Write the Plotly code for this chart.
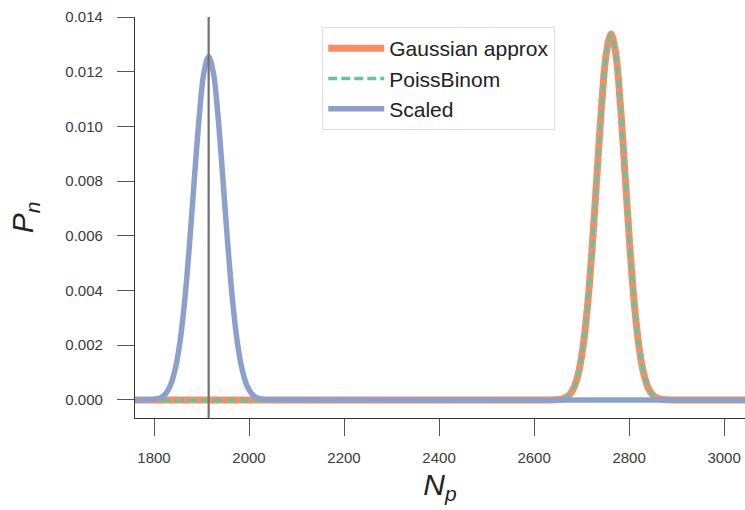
import plotly.graph_objects as go

# ---- data ----
gauss_x = [1760, 2632, 2642, 2652, 2662, 2672, 2682, 2692, 2702, 2712, 2722, 2732, 2742, 2752,
           2762, 2772, 2782, 2792, 2802, 2812, 2822, 2832, 2842, 2852, 2862, 2872, 2882, 2892, 3050]
gauss_y = [0.0, 0.000001, 0.0000045, 0.000016, 0.000052, 0.00015, 0.00038, 0.00088, 0.00181,
           0.00334, 0.00550, 0.00812, 0.01071, 0.01266, 0.01338, 0.01266, 0.01071, 0.00812,
           0.00550, 0.00334, 0.00181, 0.00088, 0.00038, 0.00015, 0.000052, 0.000016, 0.0000045,
           0.000001, 0.0]

poiss_x = [1760, 2632, 2642, 2652, 2662, 2672, 2682, 2692, 2702, 2712, 2722, 2732, 2742, 2752,
           2762, 2772, 2782, 2792, 2802, 2812, 2822, 2832, 2842, 2852, 2862, 2872, 2882, 2892, 3050]
poiss_y = [0.0, 0.000001, 0.000005, 0.000017, 0.000054, 0.00015, 0.00039, 0.00089, 0.00182,
           0.00335, 0.00551, 0.00811, 0.01069, 0.01263, 0.01335, 0.01263, 0.01069, 0.00811,
           0.00551, 0.00335, 0.00182, 0.00089, 0.00039, 0.00015, 0.000054, 0.000017, 0.000005,
           0.000001, 0.0]

scaled_x = [1760, 1785, 1795, 1805, 1815, 1825, 1835, 1845, 1855, 1865, 1875, 1885, 1895, 1905,
            1915, 1925, 1935, 1945, 1955, 1965, 1975, 1985, 1995, 2005, 2015, 2025, 2035, 2045, 3050]
scaled_y = [0.0, 0.000003, 0.000011, 0.000034, 0.000095, 0.00024, 0.00055, 0.00115, 0.00216,
            0.00370, 0.00575, 0.00809, 0.01032, 0.01195, 0.01255, 0.01195, 0.01032, 0.00809,
            0.00575, 0.00370, 0.00216, 0.00115, 0.00055, 0.00024, 0.000095, 0.000034, 0.000011,
            0.000003, 0.0]

observed_n = 1915

x_ticks = [1800, 2000, 2200, 2400, 2600, 2800, 3000]
y_ticks = [0.000, 0.002, 0.004, 0.006, 0.008, 0.010, 0.012, 0.014]

ORANGE = "#fc8d62"
GREEN = "#66c2a5"
BLUE = "#8da0cb"
FONT = "Liberation Sans, Arial, sans-serif"

fig = go.Figure()
fig.add_trace(go.Scatter(x=gauss_x, y=gauss_y, mode="lines", name="Gaussian approx",
                         legendgroup="g1", line=dict(color=ORANGE, width=7, shape="spline")))
fig.add_trace(go.Scatter(x=poiss_x, y=poiss_y, mode="lines", name="PoissBinom",
                         legendgroup="g2",
                         line=dict(color=GREEN, width=3.5, dash="9px,4px", shape="spline")))
fig.add_trace(go.Scatter(x=scaled_x, y=scaled_y, mode="lines", name="Scaled",
                         legendgroup="g3", line=dict(color=BLUE, width=5.5, shape="spline")))

fig.add_vline(x=observed_n, line=dict(color="#707070", width=2.2), layer="above")

fig.update_layout(
    width=745, height=510,
    margin=dict(l=135, r=0, t=17, b=92),
    plot_bgcolor="white", paper_bgcolor="white",
    font=dict(family=FONT, color="#333333"),
    showlegend=True,
    legend=dict(x=0.307, y=0.975, xanchor="left", yanchor="top",
                bgcolor="rgba(255,255,255,0.9)", bordercolor="#dddddd", borderwidth=1,
                font=dict(size=21, color="#222222"), tracegroupgap=0,
                itemwidth=56),
    xaxis=dict(range=[1760, 3044], tickvals=x_ticks, ticktext=[str(v) for v in x_ticks],
               automargin=False,
               showgrid=False, zeroline=False, showline=True, linecolor="#333333", linewidth=1.3,
               ticks="outside", ticklen=17, tickcolor="#555555", tickwidth=1.2,
               tickfont=dict(size=15, color="#3a3a3a"), ticklabelstandoff=9,
               title=dict(text="<i>N</i><sub><i>p</i></sub>", font=dict(size=30, color="#222222"),
                          standoff=8)),
    yaxis=dict(range=[-0.00066, 0.014], tickvals=y_ticks, ticktext=[f"{v:.3f}" for v in y_ticks],
               automargin=False,
               showgrid=False, zeroline=False, showline=True, linecolor="#333333", linewidth=1.3,
               ticks="outside", ticklen=17, tickcolor="#555555", tickwidth=1.2,
               tickfont=dict(size=15, color="#3a3a3a"), ticklabelstandoff=11,
               title=dict(text="<i>P</i><sub><i>n</i></sub>", font=dict(size=30, color="#222222"),
                          standoff=22)),
)

fig.write_html("out.html",
               config={"displayModeBar": False},
               post_script="document.body.style.margin='0px';document.body.style.overflow='hidden';")
